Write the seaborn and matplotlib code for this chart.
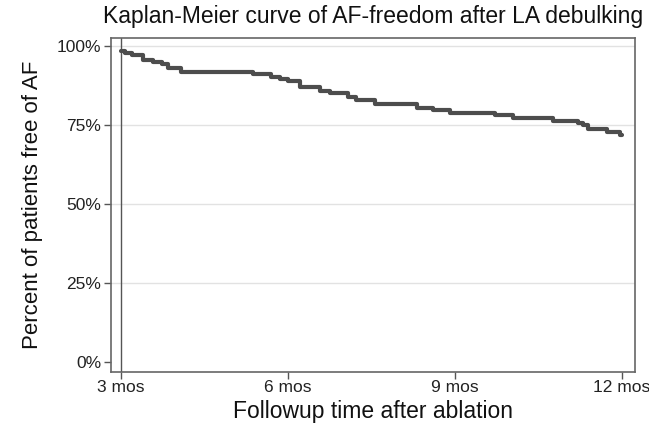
import matplotlib
matplotlib.use("Agg")
import matplotlib.pyplot as plt
import seaborn as sns
import pandas as pd

# Kaplan-Meier step data (months, percent free of AF)
months = [3.00, 3.07, 3.19, 3.39, 3.57, 3.73, 3.84, 4.08, 5.37, 5.69, 5.86, 6.00,
          6.21, 6.57, 6.75, 7.08, 7.22, 7.56, 8.32, 8.60, 8.91, 9.72, 10.04, 10.76,
          11.21, 11.30, 11.39, 11.73, 11.96, 12.00]
percent_free = [98.5, 97.7, 97.1, 95.6, 94.8, 94.2, 92.9, 91.9, 91.0, 90.3, 89.6, 88.8,
                86.9, 85.8, 85.0, 83.8, 83.0, 81.5, 80.4, 79.6, 78.9, 78.2, 77.3, 76.3,
                75.6, 75.0, 73.6, 72.8, 71.7, 71.7]
x_ticks = [3, 6, 9, 12]
x_tick_labels = ["3 mos", "6 mos", "9 mos", "12 mos"]
y_ticks = [0, 25, 50, 75, 100]
y_tick_labels = ["0%", "25%", "50%", "75%", "100%"]

df = pd.DataFrame({"months": months, "pct": percent_free})

sns.set_style("white")
plt.rcParams["font.family"] = ["Liberation Sans", "DejaVu Sans"]

fig = plt.figure(figsize=(6.49, 4.43), dpi=100)
ax = fig.add_axes([0.171, 0.160, 0.807, 0.754])

for y in y_ticks[1:]:
    ax.axhline(y, color="#e2e2e2", lw=1.0, zorder=0)
ax.axvline(3, color="#555555", lw=1.0, zorder=1)

sns.lineplot(data=df, x="months", y="pct", drawstyle="steps-post",
             color="#4d4d4d", lw=3.0, ax=ax, zorder=3)

ax.set_xlim(2.82, 12.23)
ax.set_ylim(-3.2, 102.5)
ax.set_xticks(x_ticks)
ax.set_xticklabels(x_tick_labels)
ax.set_yticks(y_ticks)
ax.set_yticklabels(y_tick_labels)
ax.tick_params(axis="both", direction="out", length=5, width=1, color="#555555",
               labelsize=12.5, labelcolor="#222222", bottom=True, left=True)
ax.tick_params(axis="x", pad=1)
ax.tick_params(axis="y", pad=2)
for s in ax.spines.values():
    s.set_color("#666666")
    s.set_linewidth(1.2)

ax.set_xlabel("Followup time after ablation", fontsize=16.5, labelpad=3, color="#111111")
ax.set_ylabel("Percent of patients free of AF", fontsize=16, labelpad=10, color="#111111")
ax.set_title("Kaplan-Meier curve of AF-freedom after LA debulking", fontsize=16.5,
             pad=11, color="#111111")

fig.savefig("out.png", dpi=100)
